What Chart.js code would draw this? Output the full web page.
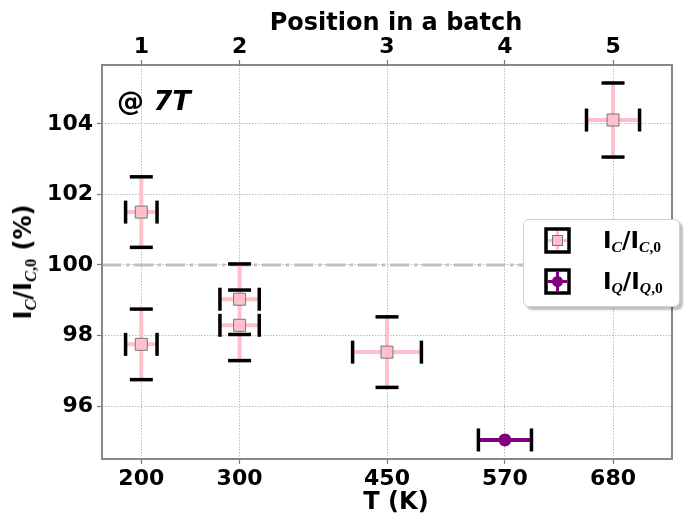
<!DOCTYPE html>
<html>
<head>
<meta charset="utf-8">
<script src="https://cdn.jsdelivr.net/npm/chart.js@4.4.0/dist/chart.umd.min.js"></script>
<style>
  body { margin: 0; background: #fff; }
  #wrap { position: relative; width: 687px; height: 516px; font-family: "DejaVu Sans", sans-serif; }
  #chart { position: absolute; left: 0; top: 0; }
  .sub { font-family: "Liberation Serif", serif; font-style: italic; font-weight: bold; font-size: 0.68em; position: relative; top: 0.28em; }
  .sub b { font-style: normal; }
  #ylabel { position: absolute; left: 23px; top: 262px; transform: translate(-50%, -50%) rotate(-90deg); white-space: nowrap; font-weight: bold; font-size: 24px; }
  #tag { position: absolute; left: 117px; top: 85px; font-weight: bold; font-size: 27px; }
  #legend { position: absolute; left: 523px; top: 219px; width: 157px; height: 88px; background: #fff; border: 1px solid #d0d0d0; border-radius: 6px; box-shadow: 3px 3px 2px rgba(0,0,0,0.25); box-sizing: border-box; }
  .row { position: absolute; left: 20px; height: 28px; display: flex; align-items: center; font-weight: bold; font-size: 23px; }
  .row svg { margin-right: 32px; }
</style>
</head>
<body>
<div id="wrap">
  <canvas id="chart" width="687" height="516"></canvas>
  <div id="ylabel">I<span class="sub">C</span>/I<span class="sub">C<b>,0</b></span> (%)</div>
  <div id="tag">@ <i>7T</i></div>
  <div id="legend">
    <div class="row" style="top:6px">
      <svg width="27" height="27" viewBox="0 0 27 27">
        <line x1="4" y1="13.5" x2="23" y2="13.5" stroke="#ffc0cb" stroke-width="3"/>
        <line x1="13.5" y1="4" x2="13.5" y2="23" stroke="#ffc0cb" stroke-width="3"/>
        <rect x="2" y="2" width="23" height="23" fill="none" stroke="#000" stroke-width="3.5"/>
        <rect x="8.5" y="8.5" width="10" height="10" fill="#ffc0cb" stroke="#777" stroke-width="1"/>
      </svg>
      <span>I<span class="sub">C</span>/I<span class="sub">C<b>,0</b></span></span>
    </div>
    <div class="row" style="top:47px">
      <svg width="27" height="27" viewBox="0 0 27 27">
        <line x1="4" y1="13.5" x2="23" y2="13.5" stroke="#800080" stroke-width="3"/>
        <line x1="13.5" y1="4" x2="13.5" y2="23" stroke="#800080" stroke-width="3"/>
        <rect x="2" y="2" width="23" height="23" fill="none" stroke="#000" stroke-width="3.5"/>
        <circle cx="13.5" cy="13.5" r="5.5" fill="#800080"/>
      </svg>
      <span>I<span class="sub">Q</span>/I<span class="sub">Q<b>,0</b></span></span>
    </div>
  </div>
</div>
<script>
// critical current ratio I_C/I_C,0 vs annealing temperature
const icTemp = [200, 200, 300, 300, 450, 680];
const icRatio = [101.5, 97.75, 99.03, 98.29, 97.53, 104.11];
const icYErr = [1.0, 1.0, 1.0, 1.0, 1.0, 1.05];
const icXErr = [16, 16, 20, 20, 35, 27];

// I_Q/I_Q,0
const iqTemp = [570];
const iqRatio = [95.04];
const iqXErr = [27];

const tempTicks = [200, 300, 450, 570, 680];
const positionLabels = ['1', '2', '3', '4', '5'];
const ratioTicks = [96, 98, 100, 102, 104];
const refLevel = 100;

const xMin = 160, xMax = 740;

// error bar segments, null breaks the line
function errSegments(xs, ys, xerr, yerr) {
    const pts = [];
    xs.forEach((x, i) => {
        if (yerr && yerr[i]) {
            pts.push({x: x, y: ys[i] - yerr[i]}, {x: x, y: ys[i] + yerr[i]}, {x: x, y: null});
        }
        if (xerr && xerr[i]) {
            pts.push({x: x - xerr[i], y: ys[i]}, {x: x + xerr[i], y: ys[i]}, {x: x, y: null});
        }
    });
    return pts;
}

const yCaps = [];
icTemp.forEach((x, i) => {
    yCaps.push({x: x, y: icRatio[i] - icYErr[i]}, {x: x, y: icRatio[i] + icYErr[i]});
});
const xCaps = [];
icTemp.forEach((x, i) => {
    xCaps.push({x: x - icXErr[i], y: icRatio[i]}, {x: x + icXErr[i], y: icRatio[i]});
});
iqTemp.forEach((x, i) => {
    xCaps.push({x: x - iqXErr[i], y: iqRatio[i]}, {x: x + iqXErr[i], y: iqRatio[i]});
});

// frame round the plot, plus the two x titles (sit a bit right of centre in the original)
const framePlugin = {
    id: 'frame',
    afterDatasetsDraw(chart) {
        const {ctx, chartArea: a} = chart;
        ctx.save();
        ctx.strokeStyle = '#888';
        ctx.lineWidth = 2;
        ctx.strokeRect(a.left, a.top, a.right - a.left, a.bottom - a.top);
        ctx.fillStyle = '#000';
        ctx.font = 'bold 24px "DejaVu Sans"';
        ctx.textAlign = 'center';
        ctx.textBaseline = 'alphabetic';
        const cx = (a.left + a.right) / 2 + 9;
        ctx.fillText('Position in a batch', cx, 30);
        ctx.fillText('T (K)', cx, 509);
        ctx.restore();
    }
};

const tickFont = {family: 'DejaVu Sans', size: 22, weight: 'bold'};
const gridOpts = {
    color: '#aaaaaa',
    lineWidth: 0.8,
    tickColor: '#777',
    tickBorderDash: [],
    tickWidth: 1.2,
    tickLength: 5
};
// in v4 border.dash is what dashes the grid lines
const borderOpts = {display: false, dash: [1.5, 1.5]};

// chart.js paints dataset 0 last, so markers come first here
new Chart(document.getElementById('chart').getContext('2d'), {
    type: 'scatter',
    data: {
        datasets: [
            {
                data: iqTemp.map((x, i) => ({x: x, y: iqRatio[i]})),
                pointStyle: 'circle',
                pointRadius: 6.5,
                pointBorderWidth: 0,
                borderColor: '#800080',
                backgroundColor: '#800080'
            },
            {
                data: icTemp.map((x, i) => ({x: x, y: icRatio[i]})),
                pointStyle: 'rect',
                pointRadius: 8.5,
                pointBorderWidth: 1,
                borderColor: '#777',
                backgroundColor: '#ffc0cb'
            },
            {
                data: xCaps,
                pointStyle: 'line',
                rotation: 90,
                pointRadius: 11.5,
                pointBorderWidth: 3.5,
                borderColor: '#000',
                backgroundColor: '#000'
            },
            {
                data: yCaps,
                pointStyle: 'line',
                pointRadius: 11.5,
                pointBorderWidth: 3.5,
                borderColor: '#000',
                backgroundColor: '#000'
            },
            {
                data: errSegments(iqTemp, iqRatio, iqXErr, null),
                showLine: true,
                spanGaps: false,
                borderColor: '#800080',
                borderWidth: 4,
                pointRadius: 0
            },
            {
                data: errSegments(icTemp, icRatio, icXErr, icYErr),
                showLine: true,
                spanGaps: false,
                borderColor: '#ffc0cb',
                borderWidth: 4,
                pointRadius: 0
            },
            {
                data: [{x: xMin, y: refLevel}, {x: xMax, y: refLevel}],
                showLine: true,
                borderColor: '#c0c0c0',
                borderWidth: 3,
                borderDash: [19, 5, 3, 5],
                pointRadius: 0
            }
        ]
    },
    options: {
        responsive: false,
        animation: false,
        layout: {padding: {left: 0, right: 15, top: 0, bottom: 0}},
        plugins: {legend: {display: false}, tooltip: {enabled: false}},
        scales: {
            x: {
                type: 'linear',
                position: 'bottom',
                min: xMin,
                max: xMax,
                afterBuildTicks: axis => { axis.ticks = tempTicks.map(v => ({value: v})); },
                afterFit: axis => { axis.height = 57; },
                border: borderOpts,
                grid: gridOpts,
                ticks: {font: tickFont, color: '#000', padding: 2, maxRotation: 0, callback: v => String(v)}
            },
            x2: {
                type: 'linear',
                position: 'top',
                min: xMin,
                max: xMax,
                afterBuildTicks: axis => { axis.ticks = tempTicks.map(v => ({value: v})); },
                afterFit: axis => { axis.height = 65; },
                border: {display: false},
                grid: Object.assign({}, gridOpts, {drawOnChartArea: false}),
                ticks: {font: tickFont, color: '#000', padding: 0, maxRotation: 0,
                    callback: v => positionLabels[tempTicks.indexOf(v)]}
            },
            y: {
                min: 94.5,
                max: 105.67,
                afterBuildTicks: axis => { axis.ticks = ratioTicks.map(v => ({value: v})); },
                afterFit: axis => { axis.width = 102; },
                border: borderOpts,
                grid: gridOpts,
                ticks: {font: tickFont, color: '#000', padding: 4}
            }
        }
    },
    plugins: [framePlugin]
});
</script>
</body>
</html>
